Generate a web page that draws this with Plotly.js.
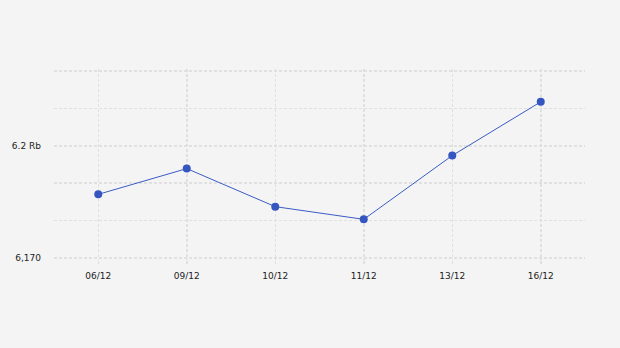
<!DOCTYPE html>
<html><head><meta charset="utf-8">
<script src="https://cdn.plot.ly/plotly-3.0.1.min.js"></script>
<style>html,body{margin:0;padding:0;background:#f4f4f4;}#c{width:620px;height:348px;}</style>
</head><body><div id="c"></div>
<script>
var categories = ["06/12","09/12","10/12","11/12","13/12","16/12"];
var values = [6187.0, 6193.9, 6183.7, 6180.3, 6197.4, 6211.8];
var yTickVals = [6170, 6180, 6190, 6200, 6210, 6220];
var yTickText = ["6,170", "", "", "6.2 Rb", "", ""];

var trace = {
  x: categories, y: values, type: "scatter", mode: "lines+markers",
  line: {color: "#3a5cc4", width: 1},
  marker: {color: "#3556c0", size: 8}
};
var layout = {
  width: 620, height: 348,
  paper_bgcolor: "#f4f4f4", plot_bgcolor: "#f4f4f4",
  margin: {l: 54, r: 35, t: 69, b: 88},
  showlegend: false,
  font: {family: "DejaVu Sans, sans-serif", size: 9, color: "#222"},
  xaxis: {
    type: "category", range: [-0.5, 5.5],
    showgrid: true, gridcolor: "#e0e0e0", griddash: "3px,2px", gridwidth: 1.5,
    ticks: "outside", ticklen: 3, tickcolor: "#e0e0e0", tickwidth: 1.5,
    ticklabelstandoff: 4,
    showline: false, zeroline: false, fixedrange: true
  },
  yaxis: {
    range: [6169.4, 6220.6],
    tickvals: yTickVals, ticktext: yTickText,
    showgrid: true, gridcolor: "#e0e0e0", griddash: "3px,2px", gridwidth: 1.5,
    ticks: "", ticklabelstandoff: 12,
    showline: false, zeroline: false, fixedrange: true
  }
};
Plotly.newPlot("c", [trace], layout, {displayModeBar: false, staticPlot: true});
</script></body></html>
